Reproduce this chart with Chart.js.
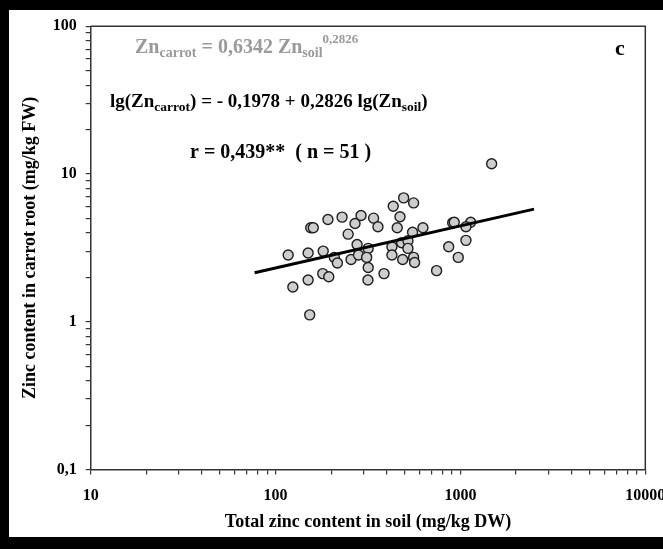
<!DOCTYPE html>
<html>
<head>
<meta charset="utf-8">
<script src="https://cdn.jsdelivr.net/npm/chart.js@4/dist/chart.umd.min.js"></script>
<style>
  html, body { margin: 0; padding: 0; background: #fff; overflow: hidden; }
  #wrap { position: relative; width: 663px; height: 549px; overflow: hidden; }
  #zinc-chart { position: absolute; left: 0; top: 0; }
  #frame {
    position: absolute; left: 0; top: 0; width: 663px; height: 549px;
    box-sizing: border-box; border: 9px solid #000; border-top-width: 10px;
    border-bottom-width: 12px; border-right: none; pointer-events: none;
  }
</style>
</head>
<body>
<div id="wrap">
  <canvas id="zinc-chart" width="700" height="549"></canvas>
  <div id="frame"></div>
</div>
<script>
// soil Zn (mg/kg DW) vs carrot root Zn (mg/kg FW), 51 samples
const soilZn = [1475, 493, 558, 433, 229, 290, 192, 339, 471, 269,
    155, 160, 358, 455, 627, 551, 908, 926, 1136, 1071,
    247, 1071, 864, 973, 743, 117, 150, 181, 208, 216,
    256, 276, 281, 317, 311, 317, 426, 426, 481, 520,
    520, 487, 558, 565, 386, 316, 180, 194, 150, 124, 153];
const carrotZn = [11.75, 6.90, 6.38, 6.06, 5.11, 5.24, 4.93, 5.03, 5.14, 4.63,
    4.33, 4.33, 4.40, 4.33, 4.33, 4.04, 4.68, 4.72, 4.72, 4.40,
    3.92, 3.56, 3.22, 2.73, 2.22, 2.83, 2.92, 3.01, 2.73, 2.50,
    2.64, 3.34, 2.83, 3.14, 2.73, 2.33, 3.22, 2.83, 3.43, 3.54,
    3.14, 2.64, 2.73, 2.52, 2.12, 1.92, 2.12, 2.02, 1.92, 1.72, 1.115];

// regression line ends
const fitX = [77, 2500];
const fitY = [2.15, 5.79];

const xTicks = [10, 20, 30, 40, 50, 60, 70, 80, 90,
    100, 200, 300, 400, 500, 600, 700, 800, 900,
    1000, 2000, 3000, 4000, 5000, 6000, 7000, 8000, 9000, 10000];
const yTicks = [0.1, 0.2, 0.3, 0.4, 0.5, 0.6, 0.7, 0.8, 0.9,
    1, 2, 3, 4, 5, 6, 7, 8, 9,
    10, 20, 30, 40, 50, 60, 70, 80, 90, 100];
const xTickLabels = {10: '10', 100: '100', 1000: '1000', 10000: '10000'};
const yTickLabels = {0.1: '0,1', 1: '1', 10: '10', 100: '100'};

const serif = '"Liberation Serif", "Times New Roman", serif';
const axisColor = '#333';

function drawRuns(ctx, x, y, runs, color) {
    ctx.fillStyle = color;
    runs.forEach(r => {
        ctx.font = `bold ${r.size}px ${serif}`;
        ctx.fillText(r.text, x, y + (r.dy || 0));
        x += ctx.measureText(r.text).width;
    });
}

const annotations = {
    id: 'annotations',
    afterDatasetsDraw(chart) {
        const ctx = chart.ctx;
        const a = chart.chartArea;
        ctx.save();
        ctx.strokeStyle = axisColor;
        ctx.lineWidth = 1.5;
        ctx.beginPath();
        ctx.moveTo(a.left, a.top);
        ctx.lineTo(a.right, a.top);
        ctx.lineTo(a.right, a.bottom);
        ctx.stroke();
        ctx.textBaseline = 'alphabetic';
        drawRuns(ctx, 135, 53, [
            {text: 'Zn', size: 20},
            {text: 'carrot', size: 14, dy: 4},
            {text: ' = 0,6342 Zn', size: 20},
            {text: 'soil', size: 14, dy: 4},
            {text: '0,2826', size: 13, dy: -10}
        ], '#9a9a9a');
        drawRuns(ctx, 110, 107, [
            {text: 'lg(Zn', size: 19},
            {text: 'carrot', size: 13.5, dy: 4},
            {text: ') = - 0,1978 + 0,2826 lg(Zn', size: 19},
            {text: 'soil', size: 13.5, dy: 4},
            {text: ')', size: 19}
        ], '#000');
        drawRuns(ctx, 190, 158, [
            {text: 'r = 0,439**', size: 20},
            {text: '  ( n = 51 )', size: 20}
        ], '#000');
        drawRuns(ctx, 615, 55, [{text: 'c', size: 22}], '#000');
        ctx.restore();
    }
};

new Chart(document.getElementById('zinc-chart'), {
    type: 'scatter',
    data: {
        datasets: [
            {
                type: 'line',
                label: 'fit',
                data: fitX.map((x, i) => ({x, y: fitY[i]})),
                borderColor: '#000',
                borderWidth: 3,
                pointRadius: 0,
                fill: false,
                order: 0
            },
            {
                label: 'samples',
                data: soilZn.map((x, i) => ({x, y: carrotZn[i]})),
                backgroundColor: '#cdcdcd',
                borderColor: '#1e1e1e',
                borderWidth: 1.4,
                pointRadius: 5,
                order: 1
            }
        ]
    },
    options: {
        responsive: false,
        animation: false,
        layout: {padding: {left: 0, top: 26.3, right: 54.7, bottom: 9.4}},
        plugins: {legend: {display: false}, tooltip: {enabled: false}},
        scales: {
            x: {
                type: 'logarithmic',
                min: 10,
                max: 10000,
                afterBuildTicks: s => { s.ticks = xTicks.map(v => ({value: v})); },
                afterFit: s => { s.height = 70; },
                grid: {drawOnChartArea: false, tickLength: 5, color: axisColor, lineWidth: 1.2},
                border: {color: axisColor, width: 1.5},
                ticks: {
                    autoSkip: false, maxRotation: 0, padding: 12, color: '#000',
                    font: {family: serif, size: 16, weight: 'bold'},
                    callback: v => xTickLabels[v] ?? ''
                },
                title: {
                    display: true, text: 'Total zinc content in soil (mg/kg DW)', color: '#000',
                    font: {family: serif, size: 18, weight: 'bold'}, padding: {top: 0, bottom: 6}
                }
            },
            y: {
                type: 'logarithmic',
                min: 0.1,
                max: 100,
                afterBuildTicks: s => { s.ticks = yTicks.map(v => ({value: v})); },
                afterFit: s => { s.width = 90.7; },
                grid: {drawOnChartArea: false, tickLength: 5, color: axisColor, lineWidth: 1.2},
                border: {color: axisColor, width: 1.5},
                ticks: {
                    autoSkip: false, padding: 9, color: '#000',
                    font: {family: serif, size: 16, weight: 'bold'},
                    callback: v => yTickLabels[v] ?? ''
                },
                title: {
                    display: true, text: 'Zinc content in carrot root (mg/kg FW)', color: '#000',
                    font: {family: serif, size: 18, weight: 'bold'}, padding: {top: 20, bottom: 0}
                }
            }
        }
    },
    plugins: [annotations]
});
</script>
</body>
</html>
